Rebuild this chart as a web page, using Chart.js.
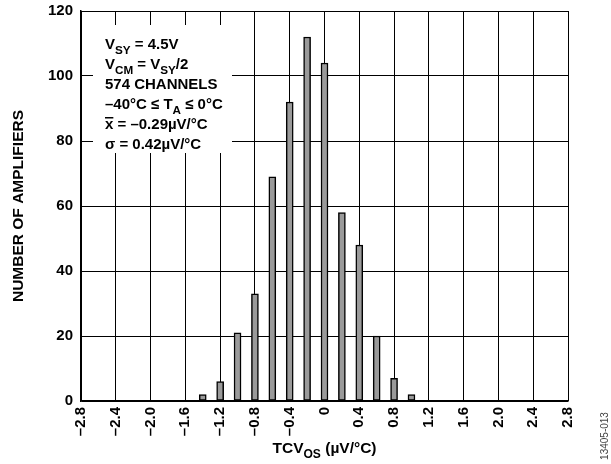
<!DOCTYPE html>
<html lang="en">
<head>
    <meta charset="UTF-8">
    <title>TCVOS Distribution</title>
    <script src="https://cdn.jsdelivr.net/npm/chart.js"></script>
    <style>
        body { margin: 0; background: #fff; }
        #wrap { width: 611px; height: 464px; position: relative; }
    </style>
</head>
<body>
    <div id="wrap"><canvas id="myChart"></canvas></div>

    <script>
        // histogram bins (µV/°C) and amplifier counts
        const binCenters = [-1.4, -1.2, -1.0, -0.8, -0.6, -0.4, -0.2, 0.0, 0.2, 0.4, 0.6, 0.8, 1.0];
        const counts     = [2, 6, 21, 33, 69, 92, 112, 104, 58, 48, 20, 7, 2];

        const xMin = -2.8, xMax = 2.8, xStep = 0.4;
        const yMin = 0, yMax = 120, yStep = 20;

        // test conditions box, each line is a list of [text, isSubscript]
        const noteLines = [
            [['V', 0], ['SY', 1], [' = 4.5V', 0]],
            [['V', 0], ['CM', 1], [' = V', 0], ['SY', 1], ['/2', 0]],
            [['574 CHANNELS', 0]],
            [['\u201340°C \u2264 T', 0], ['A', 1], [' \u2264 0°C', 0]],
            [['x', 0, 'bar'], [' = \u20130.29µV/°C', 0]],
            [['\u03c3 = 0.42µV/°C', 0]]
        ];

        const FONT = "'Liberation Sans', Arial, sans-serif";

        function fmtTick(v) {
            const r = Math.round(v * 10) / 10;
            if (r === 0) return '0';
            return (r < 0 ? '\u2013' : '') + Math.abs(r).toFixed(1);
        }

        function drawRich(ctx, parts, x, y, size) {
            for (const [text, sub, deco] of parts) {
                const fs = sub ? size * 0.78 : size;
                ctx.font = 'bold ' + fs + 'px ' + FONT;
                const dy = sub ? size * 0.3 : 0;
                ctx.fillText(text, x, y + dy);
                const w = ctx.measureText(text).width;
                if (deco === 'bar') {
                    ctx.fillRect(x, y - size * 0.8, w, 1.5);
                }
                x += w;
            }
            return x;
        }

        function richWidth(ctx, parts, size) {
            let w = 0;
            parts.forEach(([t, s]) => {
                ctx.font = 'bold ' + (s ? size * 0.78 : size) + 'px ' + FONT;
                w += ctx.measureText(t).width;
            });
            return w;
        }

        const decorations = {
            id: 'decorations',
            beforeDatasetsDraw(chart) {
                const ctx = chart.ctx;
                // white panel over the grid for the notes
                ctx.save();
                ctx.fillStyle = '#fff';
                ctx.fillRect(93, 25, 139, 128);
                ctx.fillStyle = '#000';
                ctx.textBaseline = 'alphabetic';
                ctx.textAlign = 'left';
                noteLines.forEach((parts, i) => {
                    drawRich(ctx, parts, 105, 49 + i * 20, 15);
                });
                ctx.restore();
            },
            afterDraw(chart) {
                const ctx = chart.ctx;
                const area = chart.chartArea;
                ctx.save();
                ctx.fillStyle = '#000';
                ctx.textBaseline = 'alphabetic';

                // x axis title with subscript
                const xParts = [['TCV', 0], ['OS', 1], [' (µV/°C)', 0]];
                const w = richWidth(ctx, xParts, 15.5);
                const cx = (area.left + area.right) / 2;
                drawRich(ctx, xParts, cx - w / 2, 453, 15.5);

                // y axis title
                ctx.translate(23, (area.top + area.bottom) / 2);
                ctx.rotate(-Math.PI / 2);
                ctx.textAlign = 'center';
                ctx.font = 'bold 15.5px ' + FONT;
                ctx.fillText('NUMBER OF AMPLIFIERS', 0, 0);
                ctx.restore();

                // figure code at the right edge
                ctx.save();
                ctx.translate(608, 436);
                ctx.rotate(-Math.PI / 2);
                ctx.textAlign = 'center';
                ctx.fillStyle = '#444';
                ctx.font = '10px ' + FONT;
                ctx.fillText('13405-013', 0, 0);
                ctx.restore();
            }
        };

        const ctx = document.getElementById('myChart').getContext('2d');

        new Chart(ctx, {
            type: 'bar',
            data: {
                datasets: [{
                    data: binCenters.map((x, i) => ({ x: x, y: counts[i] })),
                    backgroundColor: '#9a9a9a',
                    borderColor: '#000',
                    borderWidth: 1.5,
                    borderSkipped: false,
                    barThickness: 7
                }]
            },
            options: {
                responsive: true,
                maintainAspectRatio: false,
                animation: false,
                layout: { padding: { top: 11, right: 43, left: 0, bottom: 0 } },
                plugins: {
                    legend: { display: false },
                    tooltip: { enabled: false }
                },
                scales: {
                    x: {
                        type: 'linear',
                        min: xMin,
                        max: xMax,
                        offset: false,
                        afterFit: s => { s.height = 63; s.paddingLeft = 0; s.paddingRight = 0; },
                        grid: { color: '#000', lineWidth: 1, drawTicks: false, offset: false },
                        border: { display: true, color: '#000', width: 1.5 },
                        ticks: {
                            stepSize: xStep,
                            autoSkip: false,
                            minRotation: 90,
                            maxRotation: 90,
                            padding: 6,
                            color: '#000',
                            font: { family: FONT, size: 15, weight: 'bold' },
                            callback: v => fmtTick(v)
                        }
                    },
                    y: {
                        min: yMin,
                        max: yMax,
                        afterFit: s => { s.width = 81; s.paddingTop = 0; s.paddingBottom = 0; },
                        grid: { color: '#000', lineWidth: 1, drawTicks: false },
                        border: { display: true, color: '#000', width: 1.5 },
                        ticks: {
                            stepSize: yStep,
                            padding: 8,
                            color: '#000',
                            font: { family: FONT, size: 15, weight: 'bold' }
                        }
                    }
                }
            },
            plugins: [decorations]
        });
    </script>
</body>
</html>
